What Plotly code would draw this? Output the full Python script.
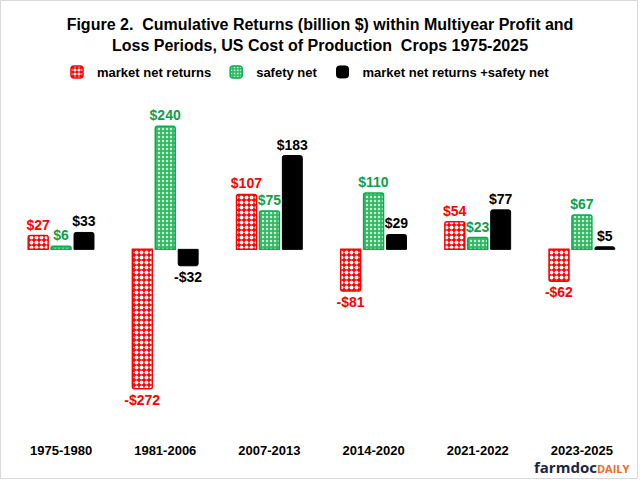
import plotly.graph_objects as go

categories = ["1975-1980", "1981-2006", "2007-2013", "2014-2020", "2021-2022", "2023-2025"]
market_net = [27, -272, 107, -81, 54, -62]
safety_net = [6, 240, 75, 110, 23, 67]
combined = [33, -32, 183, 29, 77, 5]

series_names = ["market net returns", "safety net", "market net returns +safety net"]

def lab(v):
    return ("-$%d" % abs(v)) if v < 0 else ("$%d" % v)

W, H = 640, 480
L, R, T, B = 9, 6, 95, 45
pw, ph = W - L - R, H - T - B

def px(x):
    return (x - L) / pw

def py(y):
    return (H - B - y) / ph

RED = "#FF0000"
GREEN = "#00B050"
GREEN_TXT = "#0E9F47"

fig = go.Figure()
fig.add_trace(go.Bar(
    x=categories, y=market_net, name=series_names[0],
    text=[lab(v) for v in market_net], textposition="outside",
    outsidetextfont=dict(color=RED, size=14, family="Liberation Sans, Arial", weight="bold"),
    marker=dict(color=RED, line=dict(color=RED, width=1.5), cornerradius=2,
                pattern=dict(shape=".", bgcolor=RED, fgcolor="white", size=5, solidity=0.5, fillmode="replace")),
))
fig.add_trace(go.Bar(
    x=categories, y=safety_net, name=series_names[1],
    text=[lab(v) for v in safety_net], textposition="outside",
    outsidetextfont=dict(color=GREEN_TXT, size=14, family="Liberation Sans, Arial", weight="bold"),
    marker=dict(color=GREEN, line=dict(color=GREEN, width=1.5), cornerradius=2,
                pattern=dict(shape=".", bgcolor="#33B862", fgcolor="#C8EED4", size=4, solidity=0.3, fillmode="replace")),
))
fig.add_trace(go.Bar(
    x=categories, y=combined, name=series_names[2],
    text=[lab(v) for v in combined], textposition="outside",
    outsidetextfont=dict(color="black", size=14, family="Liberation Sans, Arial", weight="bold"),
    marker=dict(color="black", line=dict(color="black", width=1), cornerradius=2),
))

fig.update_traces(cliponaxis=False, constraintext="none")

fig.update_layout(
    width=W, height=H,
    margin=dict(l=L, r=R, t=T, b=B),
    paper_bgcolor="white", plot_bgcolor="white",
    barmode="group", bargap=0.34, bargroupgap=0.13,
    font=dict(family="Liberation Sans, Arial", color="black"),
    title=dict(
        text="Figure 2.  Cumulative Returns (billion $) within Multiyear Profit and<br>Loss Periods, US Cost of Production  Crops 1975-2025",
        x=0.5, xref="container", xanchor="center",
        y=1 - 30 / H, yref="container", yanchor="middle",
        font=dict(size=16, family="Liberation Sans, Arial", color="black", weight="bold"),
    ),
    legend=dict(
        orientation="h", x=px(306), xanchor="center", y=py(72), yanchor="middle",
        font=dict(size=13, family="Liberation Sans, Arial", color="black", weight="bold"),
        itemwidth=30, bgcolor="rgba(0,0,0,0)",
    ),
    xaxis=dict(showgrid=False, zeroline=False, showline=False, ticks="",
               tickfont=dict(size=13, family="Liberation Sans, Arial", color="black", weight="bold"),
               ticklabelstandoff=6),
    yaxis=dict(range=[-362, 301], visible=False, showgrid=False, zeroline=False),
    showlegend=True,
)

fig.add_shape(type="rect", xref="paper", yref="paper",
              x0=px(0.5), x1=px(637.5), y0=py(478.5), y1=py(0.5),
              line=dict(color="#D9D9D9", width=1), fillcolor="rgba(0,0,0,0)", layer="below")

fig.add_annotation(
    xref="paper", yref="paper", x=px(631), y=py(467), xanchor="right", yanchor="middle",
    text="<b>farmdoc</b><span style='color:#F26B21;font-size:11px'><b>DAILY</b></span>",
    showarrow=False, font=dict(size=15, family="Open Sans, Lato, sans-serif", color="#1C2541"),
)

fig.write_html("out.html")
